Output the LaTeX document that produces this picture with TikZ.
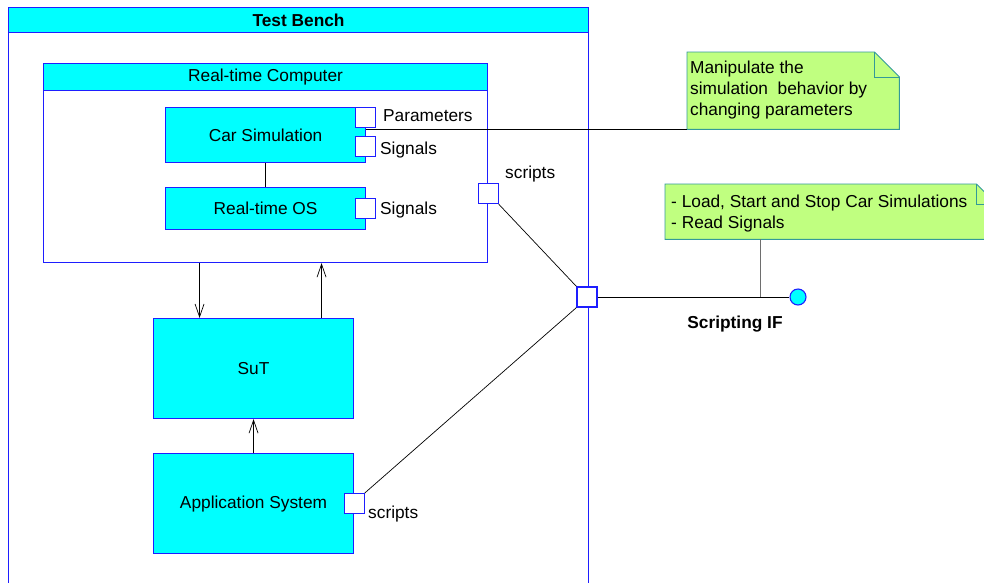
\documentclass[tikz,border=0pt]{standalone}
\usepackage{fontspec}
\setmainfont{Liberation Sans}
\usetikzlibrary{positioning, arrows.meta, calc}
\definecolor{BlockCyan}{RGB}{0, 255, 255}
\definecolor{BlockBlue}{RGB}{30, 30, 255}
\definecolor{NoteGreen}{RGB}{192, 255, 128}
\definecolor{NoteTeal}{RGB}{51, 153, 153}
\definecolor{LinkGrey}{RGB}{110, 110, 110}

\begin{document}
\begin{tikzpicture}[
    x=1pt, y=-1pt,
    font=\fontsize{17.3}{21}\selectfont,
    % Global Styles
    frame/.style={
        rectangle,
        draw=BlockBlue,        % Blue border
        line width=1.1pt,
        inner sep=0pt
    },
    block/.style={
        frame,
        fill=BlockCyan,        % Cyan body
        align=center
    },
    header/.style={
        block,
        anchor=north west
    },
    port/.style={
        frame,
        fill=white,
        minimum size=20pt
    },
    link/.style={
        draw=black,
        line width=0.7pt
    },
    flow/.style={
        link,
        -{Straight Barb[length=13pt, width=9pt]}
    },
    notebox/.style={
        draw=NoteTeal,         % Teal border
        fill=NoteGreen,        % Light green note
        line width=0.9pt
    },
    notetext/.style={
        align=left,
        inner sep=0pt,
        anchor=north west
    },
    caption/.style={
        inner sep=0pt,
        anchor=base west
    }
]

    \path[use as bounding box, fill=white] (0,0) rectangle (984,582);

    % --- Test Bench ---
    \node[frame, fill=white, minimum width=580pt, minimum height=620pt, anchor=north west] (bench) at (8,7) {};
    \node[header, minimum width=580pt, minimum height=25pt, font=\fontsize{17.3}{21}\selectfont\bfseries] (benchhead) at (bench.north west) {Test Bench};

    % --- Real-time Computer ---
    \node[frame, fill=white, minimum width=444pt, minimum height=199pt, anchor=north west] (rtc) at (43,63) {};
    \node[header, minimum width=444pt, minimum height=27pt] (rtchead) at (rtc.north west) {Real-time Computer};

    \node[block, minimum width=200pt, minimum height=55pt, anchor=north west] (carsim) at (165,107) {Car Simulation};
    \node[block, minimum width=200pt, minimum height=42pt, below=24pt of carsim] (rtos) {Real-time OS};

    % --- SuT and Application System ---
    \node[block, minimum width=200pt, minimum height=100pt, anchor=north west] (sut) at (153,318) {SuT};
    \node[block, minimum width=200pt, minimum height=100pt, below=34pt of sut] (app) {Application System};

    % --- Notes ---
    \node[minimum width=212pt, minimum height=77pt, anchor=north west, inner sep=0pt] (noteone) at (687,52) {};
    \filldraw[notebox] (noteone.south west) -- (noteone.north west) -- ([xshift=-25pt]noteone.north east)
        -- ([yshift=-25pt]noteone.north east) -- (noteone.south east) -- cycle;
    \draw[notebox, fill=none] ([xshift=-25pt]noteone.north east) |- ([yshift=-25pt]noteone.north east);
    \node[notetext] (noteonetext) at (690,61) {Manipulate the\\simulation\ \ behavior by\\changing parameters};

    \node[minimum width=331pt, minimum height=55pt, anchor=north west, inner sep=0pt] (notetwo) at (665,184) {};
    \filldraw[notebox] (notetwo.south west) -- (notetwo.north west) -- ([xshift=-20pt]notetwo.north east)
        -- ([yshift=-20pt]notetwo.north east) -- (notetwo.south east) -- cycle;
    \draw[notebox, fill=none] ([xshift=-20pt]notetwo.north east) |- ([yshift=-20pt]notetwo.north east);
    \node[notetext] (notetwotext) at (671,195) {- Load, Start and Stop Car Simulations\\- Read Signals};

    % --- Scripting interface ---
    \node[circle, draw=BlockBlue, fill=BlockCyan, line width=1.1pt, minimum size=16pt, inner sep=0pt] (scriptif) at (798,297) {};
    \node[font=\fontsize{17.3}{21}\selectfont\bfseries, inner sep=0pt, anchor=base] (scriptiflabel) at (735,328) {Scripting IF};

    % --- Connections ---
    \draw[link] (carsim.east |- noteone.south) -- (noteone.south west);
    \draw[link] (carsim) -- (rtos);
    \draw[flow] ([xshift=-54pt]sut.north |- rtc.south) -- ([xshift=-54pt]sut.north);
    \draw[flow] ([xshift=68pt]sut.north) -- ([xshift=68pt]sut.north |- rtc.south);
    \draw[flow] (app) -- (sut);
    \draw[link, draw=LinkGrey] ([xshift=-70pt]notetwo.south) -- ([xshift=-70pt]notetwo.south |- scriptif.center);

    % --- Ports ---
    \node[port, anchor=north] (param) at ([xshift=-1pt]carsim.north east) {};
    \node[port, below=8pt of param] (carsig) {};
    \node[port] (ossig) at ([xshift=-1pt]rtos.east) {};
    \node[port] (rtcport) at ([yshift=-30.5pt]rtc.east) {};
    \node[port] (appport) at (app.east) {};
    \node[port] (scriptport) at (587,297) {};

    \draw[link] (rtcport.south east) -- (scriptport.north west);
    \draw[link] (appport.north east) -- (scriptport.south west);
    \draw[link] (scriptport) -- (scriptif);

    % --- Port labels ---
    \node[caption] (paramlabel) at (383,121) {Parameters};
    \node[caption] (carsiglabel) at (380,154) {Signals};
    \node[caption] (ossiglabel) at (380,214) {Signals};
    \node[caption] (rtcportlabel) at (505,178) {scripts};
    \node[caption] (appportlabel) at (368,518) {scripts};

\end{tikzpicture}
\end{document}
